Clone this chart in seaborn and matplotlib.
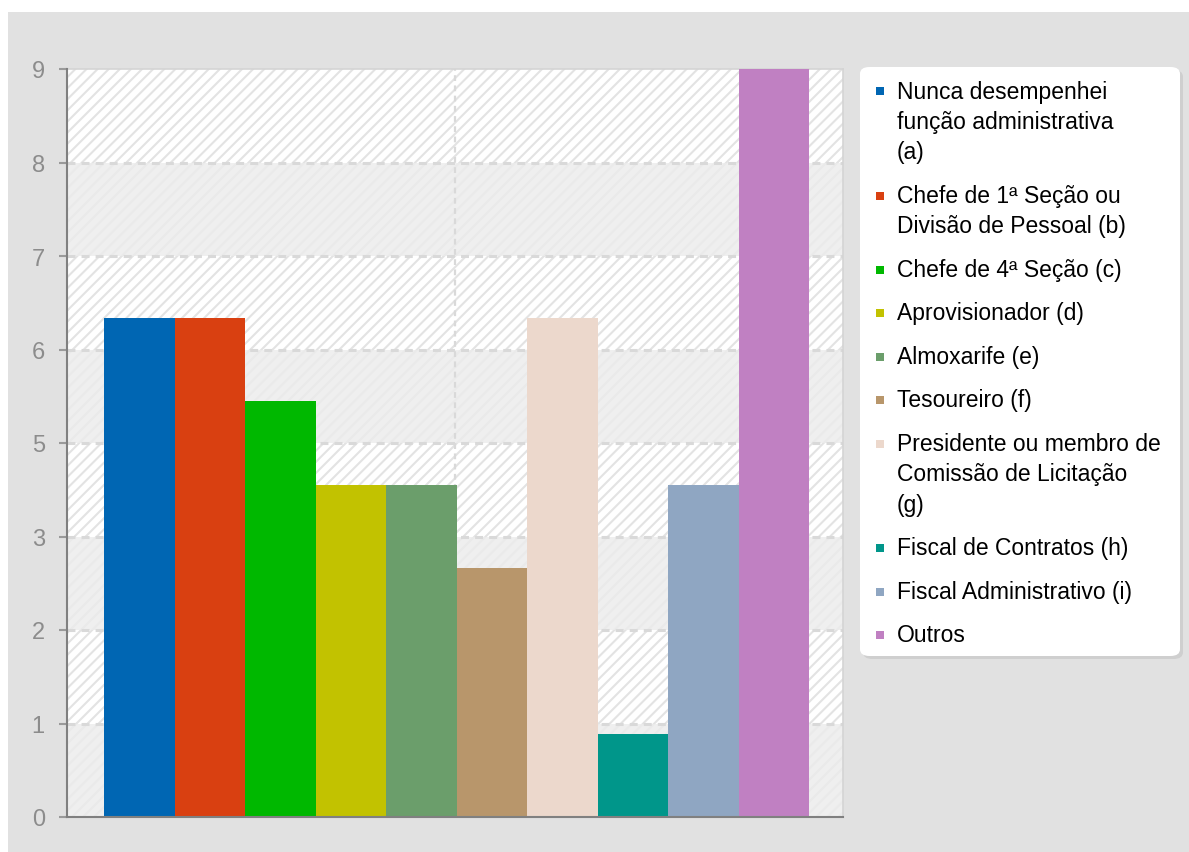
import numpy as np
import pandas as pd
import matplotlib
matplotlib.use("Agg")
import matplotlib.pyplot as plt
import seaborn as sns
from matplotlib import font_manager
from matplotlib.patches import Rectangle, FancyBboxPatch

# ---- data -------------------------------------------------------------
funcoes = [
    "Nunca desempenhei\nfunção administrativa\n(a)",
    "Chefe de 1ª Seção ou\nDivisão de Pessoal (b)",
    "Chefe de 4ª Seção (c)",
    "Aprovisionador (d)",
    "Almoxarife (e)",
    "Tesoureiro (f)",
    "Presidente ou membro de\nComissão de Licitação\n(g)",
    "Fiscal de Contratos (h)",
    "Fiscal Administrativo (i)",
    "Outros",
]
totais = [6, 6, 5, 4, 4, 3, 6, 1, 4, 9]
cores = ["#0066b3", "#d94011", "#00b800", "#c2c200", "#6b9e6b",
         "#b8966b", "#ecd8cc", "#00968a", "#8fa6c2", "#c080c2"]
y_max = 9
n_intervalos = 8

# ---- fonts --------------------------------------------------------------
disponiveis = {f.name for f in font_manager.fontManager.ttflist}
fonte = next((f for f in ["Liberation Sans Narrow", "DejaVu Sans Condensed",
                          "Liberation Sans", "DejaVu Sans"] if f in disponiveis),
             "DejaVu Sans")

sns.set_theme(style="white")
plt.rcParams["font.family"] = [fonte, "DejaVu Sans"]
plt.rcParams["hatch.linewidth"] = 1.5

W, H = 1189, 853
fig = plt.figure(figsize=(W / 100, H / 100), dpi=100, facecolor="white")

def fx(px):
    return px / W

def fy(py):
    return 1 - py / H

# grey panel behind everything
fig.patches.append(Rectangle((fx(8), 0), 1 - fx(8), fy(13), transform=fig.transFigure,
                             facecolor="#e1e1e1", edgecolor="none", zorder=-10))

ax_l, ax_r, ax_t, ax_b = 67, 843, 70, 818
ax = fig.add_axes([fx(ax_l), fy(ax_b), fx(ax_r) - fx(ax_l), (ax_b - ax_t) / H])
ax.set_facecolor("#efefef")

df = pd.DataFrame({"funcao": funcoes, "total": totais})
sns.barplot(data=df, x="funcao", y="total", hue="funcao", palette=cores,
            width=1.0, saturation=1, linewidth=0, legend=False, ax=ax, zorder=3)

# y ticks: evenly spaced, labels rounded half up
yticks = np.linspace(0, y_max, n_intervalos + 1)
ylabels = [str(int(np.floor(v + 0.5))) for v in yticks]
ax.set_ylim(0, y_max)
ax.set_xlim(-1.025, 9.982)

# alternating background bands
for i in range(n_intervalos):
    lo, hi = yticks[i], yticks[i + 1]
    if i % 2 == 1:
        ax.axhspan(lo, hi, facecolor="white", edgecolor="#e3e3e3", hatch="///",
                   linewidth=0, zorder=0)
    else:
        ax.axhspan(lo, hi, facecolor="#efefef", edgecolor="#eaeaea", hatch="///",
                   linewidth=0, zorder=0)

# dashed grid
dash = (0, (2.6, 2))
for v in yticks[1:-1]:
    ax.axhline(v, color="#d9d9d9", lw=2.2, linestyle=dash, zorder=1)
ax.axvline(np.mean(ax.get_xlim()), color="#d9d9d9", lw=1.6, linestyle=dash, zorder=1)

ax.set_yticks(yticks)
ax.set_yticklabels(ylabels)
ax.set_xticks([])
ax.set_xlabel("")
ax.set_ylabel("")
ax.tick_params(axis="y", which="major", left=True, length=6, width=1.5,
               color="#9a9a9a", labelcolor="#8c8c8c", labelsize=17, pad=10)

for s in ["left", "bottom"]:
    ax.spines[s].set_color("#808080")
    ax.spines[s].set_linewidth(1.5)
    ax.spines[s].set_zorder(5)
for s in ["top", "right"]:
    ax.spines[s].set_color("#d4d4d4")
    ax.spines[s].set_linewidth(1.2)

# ---- legend panel -------------------------------------------------------
lx0, ly0, lx1, ly1 = 860, 68, 1180, 657
fig.patches.append(FancyBboxPatch((fx(lx0 + 3), fy(ly1 + 3)), fx(lx1) - fx(lx0),
                                  (ly1 - ly0) / H, transform=fig.transFigure,
                                  boxstyle="round,pad=0,rounding_size=0.008",
                                  facecolor="#cfcfcf", edgecolor="none", zorder=1))
fig.patches.append(FancyBboxPatch((fx(lx0), fy(ly1)), fx(lx1) - fx(lx0),
                                  (ly1 - ly0) / H, transform=fig.transFigure,
                                  boxstyle="round,pad=0,rounding_size=0.008",
                                  facecolor="white", edgecolor="none", zorder=2))

y = 92.0
line_h = 30.5
entry_h = 43.5
for rotulo, cor in zip(funcoes, cores):
    linhas = rotulo.split("\n")
    fig.patches.append(Rectangle((fx(876), fy(y + 4)), fx(8), 8 / H,
                                 transform=fig.transFigure, facecolor=cor,
                                 edgecolor="none", zorder=3))
    for k, linha in enumerate(linhas):
        fig.text(fx(897), fy(y + k * line_h), linha, ha="left", va="center",
                 fontsize=16.5, color="black", zorder=4)
    y += (len(linhas) - 1) * line_h + entry_h

fig.savefig("out.png", dpi=100, facecolor=fig.get_facecolor())
